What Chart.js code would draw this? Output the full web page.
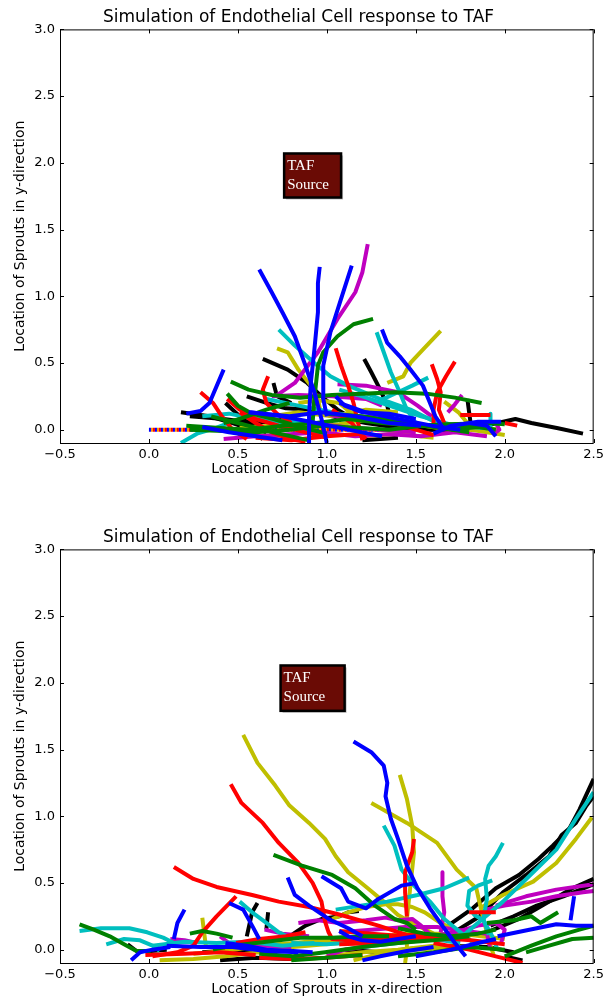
<!DOCTYPE html>
<html>
<head>
<meta charset="utf-8">
<script src="https://cdn.jsdelivr.net/npm/chart.js@4.4.1/dist/chart.umd.min.js"></script>
<style>
  body { margin: 0; background: #fff; }
  .wrap { position: relative; width: 608px; height: 1003px; }
  canvas { position: absolute; left: 0; }
  #top { top: 0; }
  #bottom { top: 520px; }
</style>
</head>
<body>
<div class="wrap">
  <canvas id="top" width="608" height="483"></canvas>
  <canvas id="bottom" width="608" height="483"></canvas>
</div>
<script>
// tick labels
const xTicks = [-0.5, 0.0, 0.5, 1.0, 1.5, 2.0, 2.5];
const yTicks = [0.0, 0.5, 1.0, 1.5, 2.0, 2.5, 3.0];

// sprout paths, flat x,y pairs, grouped by colour
// first simulation
const topBlue = [
  [0.62,1.20, 0.69,1.03, 0.75,0.88, 0.82,0.70, 0.88,0.48, 0.93,0.28, 0.97,0.08, 1.00,-0.10],
  [0.96,1.22, 0.95,1.10, 0.95,0.88, 0.93,0.60, 0.91,0.35, 0.90,0.10, 0.90,-0.10],
  [1.14,1.23, 1.08,0.98, 1.02,0.73, 0.98,0.48, 0.98,0.23, 1.00,0.10],
  [1.31,0.75, 1.34,0.65, 1.41,0.55, 1.47,0.45, 1.54,0.33, 1.58,0.20, 1.61,0.10, 1.65,0.02],
  [0.42,0.45, 0.34,0.20, 0.29,0.14, 0.21,0.12],
  [0.57,0.13, 0.75,0.10, 0.94,0.05, 1.12,0.00, 1.31,-0.05],
  [1.07,0.20, 1.22,0.13, 1.40,0.08, 1.59,0.03, 1.75,0.00],
  [1.80,0.05, 1.90,0.03, 1.95,-0.05],
  [0.56,0.13, 0.79,0.10, 0.97,0.13, 1.16,0.10, 1.35,0.05, 1.53,0.03],
  [0.30,0.02, 0.45,-0.02, 0.60,-0.05, 0.75,-0.08],
  [1.05,0.25, 1.10,0.18, 1.20,0.13, 1.35,0.12, 1.50,0.08],
  [1.60,-0.03, 1.70,0.03, 1.85,0.06, 1.98,0.06]
];
const topGreen = [
  [1.26,0.83, 1.15,0.79, 1.06,0.70, 0.98,0.58, 0.95,0.48, 0.93,0.23, 0.92,0.05],
  [0.46,0.36, 0.56,0.30, 0.69,0.26, 0.85,0.24, 1.03,0.26, 1.20,0.27, 1.38,0.28, 1.56,0.27, 1.72,0.24, 1.87,0.20],
  [0.21,0.03, 0.38,0.015, 0.56,0.00, 0.75,0.03, 0.94,0.05, 1.12,0.08, 1.31,0.05, 1.49,0.03, 1.70,0.04, 1.90,0.05, 2.00,0.04],
  [0.44,0.27, 0.50,0.18, 0.58,0.12, 0.70,0.08, 0.85,0.02, 1.00,-0.03],
  [1.00,0.12, 1.20,0.10, 1.40,0.06, 1.60,0.02, 1.80,-0.02],
  [0.35,0.10, 0.50,0.05, 0.70,-0.02, 0.90,-0.08],
  [0.23,0.00, 0.42,-0.01, 0.60,-0.02, 0.79,0.00, 0.97,0.03, 1.16,0.015, 1.35,0.00, 1.53,0.03, 1.72,0.04, 1.90,0.015],
  [0.42,0.05, 0.51,0.08, 0.66,0.15, 0.79,0.20],
  [1.70,0.00, 1.85,0.02, 1.95,0.00]
];
const topRed = [
  [1.05,0.61, 1.08,0.48, 1.12,0.33, 1.15,0.20, 1.17,0.08, 1.20,-0.08],
  [1.72,0.51, 1.67,0.40, 1.62,0.28, 1.60,0.15, 1.60,0.05],
  [1.59,0.49, 1.62,0.38, 1.64,0.28, 1.63,0.15, 1.66,0.05],
  [0.29,0.28, 0.36,0.20, 0.41,0.10, 0.47,0.00, 0.55,-0.07],
  [0.44,0.23, 0.51,0.15, 0.60,0.08, 0.73,0.03, 0.88,-0.02, 1.00,-0.06],
  [0.67,0.40, 0.64,0.30, 0.66,0.20, 0.72,0.12, 0.80,0.05],
  [1.03,0.15, 1.14,0.05, 1.22,-0.07],
  [1.75,0.11, 1.92,0.11],
  [2.00,0.05, 2.07,0.03],
  [0.60,-0.06, 0.80,-0.08, 1.00,-0.05, 1.20,-0.03],
  [0.51,0.13, 0.60,0.05, 0.69,-0.02, 0.79,-0.07, 0.88,-0.09],
  [1.30,0.10, 1.40,0.04, 1.50,0.00, 1.60,-0.04]
];
const topCyan = [
  [0.73,0.75, 0.82,0.63, 0.93,0.50, 1.02,0.40, 1.12,0.33, 1.30,0.23, 1.47,0.15, 1.62,0.05, 1.78,0.00],
  [1.28,0.73, 1.32,0.58, 1.36,0.43, 1.41,0.28, 1.45,0.15, 1.50,0.05],
  [1.57,0.39, 1.48,0.33, 1.40,0.28, 1.30,0.22],
  [0.66,0.23, 0.84,0.18, 1.03,0.13, 1.22,0.08, 1.40,0.05, 1.59,0.03, 1.77,0.00],
  [0.18,-0.10, 0.27,-0.03, 0.37,0.01, 0.45,0.05],
  [1.92,0.12, 1.92,0.02],
  [0.50,0.17, 0.60,0.10, 0.75,0.05, 0.90,0.00],
  [1.07,0.30, 1.20,0.25, 1.35,0.18, 1.53,0.10, 1.72,0.03, 1.90,0.01],
  [0.30,0.10, 0.45,0.12, 0.60,0.08, 0.80,0.06, 1.00,0.04]
];
const topMagenta = [
  [1.23,1.39, 1.20,1.18, 1.16,1.03, 1.06,0.83, 0.95,0.58, 0.82,0.35, 0.71,0.25],
  [1.06,0.34, 1.22,0.33, 1.40,0.28, 1.51,0.18, 1.59,0.10],
  [0.69,0.25, 0.84,0.26, 1.03,0.25, 1.22,0.23, 1.31,0.18],
  [1.76,0.26, 1.72,0.19, 1.68,0.13],
  [1.95,0.05, 1.97,0.00, 1.93,-0.04],
  [0.90,0.05, 1.10,0.02, 1.30,0.00, 1.50,-0.02],
  [0.42,-0.07, 0.60,-0.05, 0.79,-0.035, 0.97,-0.02, 1.16,-0.05, 1.35,-0.035, 1.53,-0.05, 1.72,-0.02, 1.90,-0.05],
  [1.00,0.12, 1.10,0.08, 1.25,0.10, 1.35,0.05]
];
const topYellow = [
  [1.64,0.74, 1.54,0.60, 1.47,0.50, 1.43,0.40, 1.34,0.35],
  [0.72,0.61, 0.78,0.58, 0.84,0.45, 0.91,0.33, 0.95,0.23, 0.97,0.10],
  [0.69,0.10, 0.84,0.13, 1.03,0.10, 1.22,0.15, 1.40,0.13],
  [1.66,0.21, 1.74,0.13, 1.79,0.05, 1.87,0.02, 1.96,0.00],
  [1.20,-0.05, 1.40,-0.03, 1.60,-0.06],
  [0.51,0.015, 0.69,0.03, 0.88,0.015, 1.07,0.04, 1.25,0.08, 1.44,0.05, 1.62,0.015, 1.81,0.00, 2.00,-0.04],
  [0.84,0.20, 0.95,0.22, 1.07,0.20, 1.14,0.12]
];
const topBlack = [
  [0.64,0.53, 0.78,0.45, 0.89,0.35, 0.97,0.25, 1.06,0.15, 1.15,0.08],
  [1.21,0.53, 1.25,0.43, 1.30,0.30, 1.34,0.18, 1.36,0.05],
  [0.18,0.13, 0.34,0.10, 0.47,0.05, 0.60,-0.01],
  [0.55,0.25, 0.66,0.20, 0.77,0.16, 0.92,0.15, 1.03,0.10, 1.22,0.05, 1.40,0.015, 1.59,0.00, 1.77,0.00, 1.96,0.05, 2.06,0.08, 2.15,0.05, 2.30,0.01, 2.44,-0.03],
  [0.43,0.20, 0.51,0.10, 0.58,0.03, 0.66,-0.02],
  [1.79,0.23, 1.80,0.13, 1.81,0.03],
  [0.70,0.35, 0.72,0.25, 0.80,0.20],
  [0.49,0.08, 0.56,0.00, 0.64,-0.07],
  [0.23,0.10, 0.42,0.08, 0.60,0.05, 0.79,0.08],
  [1.20,-0.08, 1.40,-0.06]
];
// start positions of the sprouts (dotted row on y = 0)
const topStart = [0.0,0.0, 1.95,0.0];

// second simulation
const botYellow = [
  [0.53,1.61, 0.61,1.40, 0.71,1.23, 0.79,1.08, 0.90,0.95, 0.99,0.83, 1.05,0.70, 1.12,0.58, 1.23,0.46, 1.32,0.36, 1.40,0.26, 1.51,0.18, 1.60,0.12],
  [1.41,1.31, 1.45,1.13, 1.48,0.93, 1.49,0.73, 1.47,0.48, 1.45,0.23, 1.45,0.00, 1.44,-0.10],
  [1.25,1.10, 1.45,0.95, 1.62,0.80, 1.73,0.60, 1.84,0.46, 1.88,0.23, 1.92,0.03, 1.94,-0.05],
  [1.86,0.31, 1.99,0.41, 2.16,0.51, 2.29,0.65, 2.40,0.83, 2.49,0.99],
  [1.03,0.23, 1.12,0.28, 1.22,0.32, 1.33,0.34, 1.40,0.34, 1.48,0.32, 1.55,0.28, 1.64,0.20, 1.72,0.15, 1.81,0.10],
  [0.06,-0.08, 0.25,-0.07, 0.43,-0.05, 0.62,-0.02, 0.81,0.02, 0.99,0.04, 1.07,0.05, 1.30,0.07, 1.50,0.10, 1.70,0.12],
  [0.25,-0.03, 0.43,-0.01, 0.62,0.03, 0.81,0.05, 0.99,0.07, 1.20,0.06],
  [0.30,0.24, 0.31,0.13, 0.32,0.03],
  [1.00,-0.05, 1.20,-0.02, 1.40,0.00, 1.60,0.03, 1.80,0.02],
  [1.07,0.04, 1.25,0.09, 1.44,0.12, 1.62,0.12, 1.81,0.11, 2.00,0.08],
  [1.15,-0.08, 1.30,-0.03, 1.50,0.00, 1.70,0.02]
];
const botRed = [
  [0.46,1.24, 0.52,1.10, 0.64,0.95, 0.73,0.80, 0.84,0.65, 0.92,0.50, 0.97,0.36, 0.99,0.21, 1.01,0.13, 1.03,0.08, 1.12,0.07, 1.31,0.08, 1.49,0.09, 1.62,0.10, 1.77,0.09],
  [0.14,0.62, 0.25,0.53, 0.38,0.47, 0.58,0.41, 0.73,0.36, 0.90,0.32, 1.08,0.26, 1.29,0.18, 1.45,0.11, 1.64,0.11],
  [0.02,-0.05, 0.16,-0.02, 0.25,0.03, 0.30,0.13, 0.38,0.25, 0.49,0.40],
  [1.49,0.83, 1.48,0.73, 1.44,0.58, 1.44,0.43, 1.45,0.25],
  [0.49,0.05, 0.62,0.08, 0.77,0.10, 0.88,0.13],
  [0.62,-0.06, 0.81,-0.07, 0.99,-0.06, 1.20,-0.04],
  [1.60,0.05, 1.80,0.00, 1.95,-0.05, 2.10,-0.10],
  [1.80,0.28, 1.95,0.28],
  [1.07,0.14, 1.25,0.12, 1.44,0.10, 1.62,0.09, 1.81,0.07, 2.00,0.04],
  [1.07,0.04, 1.30,0.05, 1.50,0.07, 1.70,0.08],
  [-0.02,-0.04, 0.20,-0.03, 0.40,-0.02, 0.60,-0.04]
];
const botBlue = [
  [1.15,1.56, 1.25,1.48, 1.32,1.38, 1.34,1.25, 1.33,1.15, 1.36,0.98, 1.40,0.83, 1.45,0.63, 1.51,0.46, 1.58,0.31, 1.66,0.16, 1.72,0.05, 1.78,-0.05],
  [0.78,0.54, 0.82,0.41, 0.90,0.33, 1.01,0.23, 1.12,0.16, 1.20,0.10],
  [0.97,0.55, 1.08,0.46, 1.12,0.36, 1.22,0.31, 1.29,0.38, 1.42,0.48, 1.50,0.50],
  [-0.10,-0.08, -0.05,-0.02, 0.02,0.00, 0.12,0.02],
  [0.14,0.08, 0.16,0.20, 0.20,0.30],
  [0.45,0.35, 0.53,0.30, 0.58,0.18, 0.62,0.08],
  [0.43,0.05, 0.55,0.03, 0.66,0.00, 0.81,-0.01, 0.92,-0.02],
  [1.96,0.10, 2.07,0.13, 2.18,0.16, 2.29,0.19, 2.40,0.18, 2.50,0.18],
  [2.37,0.22, 2.39,0.40],
  [1.50,-0.05, 1.70,0.00, 1.85,0.05, 1.95,0.08],
  [0.10,0.03, 0.29,0.02, 0.47,0.02, 0.66,-0.01, 0.84,-0.02],
  [1.07,0.14, 1.12,0.10, 1.20,0.07, 1.30,0.06, 1.40,0.08, 1.50,0.10],
  [1.20,-0.08, 1.30,-0.05, 1.45,-0.01, 1.60,0.02]
];
const botCyan = [
  [1.32,0.93, 1.38,0.78, 1.42,0.60, 1.49,0.48, 1.58,0.36, 1.66,0.23, 1.77,0.11, 1.85,0.02],
  [1.80,0.54, 1.66,0.46, 1.51,0.41, 1.34,0.36, 1.19,0.33, 1.05,0.30],
  [-0.39,0.14, -0.27,0.16, -0.11,0.16, -0.01,0.13, 0.08,0.09, 0.14,0.05],
  [-0.24,0.04, -0.14,0.08, -0.05,0.07, 0.02,0.03, 0.06,-0.01],
  [0.51,0.36, 0.58,0.28, 0.66,0.20, 0.73,0.13, 0.81,0.08],
  [1.77,0.11, 1.99,0.36, 2.16,0.58, 2.29,0.75, 2.40,0.98, 2.50,1.18],
  [1.99,0.80, 1.95,0.70, 1.91,0.63, 1.89,0.53, 1.90,0.38, 1.88,0.23, 1.91,0.11],
  [1.93,0.52, 1.85,0.48, 1.80,0.44, 1.79,0.33, 1.83,0.26, 1.88,0.22, 1.93,0.10, 1.96,0.00],
  [0.80,0.05, 1.00,0.04, 1.20,0.06],
  [0.02,0.03, 0.20,0.06, 0.38,0.05, 0.56,0.06, 0.75,0.03, 0.93,0.05],
  [1.20,0.02, 1.40,0.05, 1.60,0.08, 1.75,0.05]
];
const botBlack = [
  [1.66,0.16, 1.82,0.31, 1.95,0.46, 2.08,0.56, 2.19,0.68, 2.27,0.78, 2.36,0.90, 2.42,1.05, 2.50,1.28],
  [1.68,0.10, 1.86,0.25, 1.99,0.43, 2.12,0.56, 2.25,0.70, 2.32,0.86, 2.40,0.95, 2.46,1.08, 2.50,1.15],
  [1.92,0.18, 2.05,0.25, 2.18,0.33, 2.33,0.40, 2.50,0.49],
  [1.90,0.13, 2.08,0.23, 2.25,0.36, 2.38,0.46, 2.50,0.53],
  [-0.12,0.04, -0.07,-0.01, 0.01,-0.01, 0.10,0.00],
  [0.55,0.10, 0.58,0.28, 0.61,0.35],
  [0.66,0.15, 0.67,0.28],
  [0.79,0.10, 0.88,0.18, 0.97,0.23, 1.07,0.25, 1.12,0.28, 1.18,0.29],
  [2.00,-0.05, 2.10,-0.08],
  [0.30,-0.02, 0.50,0.00, 0.70,-0.03],
  [1.10,0.00, 1.30,-0.02, 1.50,0.01, 1.70,0.03, 1.90,0.02, 2.05,-0.02],
  [0.40,-0.08, 0.60,-0.06, 0.80,-0.07]
];
const botMagenta = [
  [0.84,0.20, 0.95,0.22, 1.07,0.20, 1.22,0.22, 1.33,0.24, 1.40,0.22, 1.48,0.23, 1.53,0.18, 1.59,0.10],
  [1.65,0.58, 1.65,0.40, 1.66,0.28, 1.64,0.13],
  [1.89,0.30, 2.00,0.33, 2.15,0.36, 2.29,0.40, 2.44,0.43, 2.50,0.44],
  [1.95,0.33, 2.12,0.40, 2.29,0.45, 2.50,0.49],
  [1.60,0.10, 1.75,0.14, 1.85,0.18, 1.95,0.20, 2.00,0.15, 1.98,0.05],
  [0.12,0.08, 0.20,0.07, 0.27,0.05],
  [1.00,-0.05, 1.10,0.00, 1.25,0.03],
  [1.07,0.13, 1.25,0.15, 1.44,0.17, 1.62,0.17, 1.78,0.14, 1.90,0.12, 1.92,0.00],
  [0.40,0.10, 0.45,0.05, 0.60,0.03, 0.80,0.02],
  [0.65,0.15, 0.75,0.12, 0.90,0.10]
];
const botGreen = [
  [0.70,0.71, 0.86,0.63, 1.03,0.56, 1.16,0.46, 1.27,0.33, 1.38,0.23, 1.45,0.20, 1.50,0.15],
  [-0.39,0.19, -0.31,0.15, -0.22,0.10, -0.14,0.04, -0.07,-0.01, 0.01,-0.01],
  [0.23,0.12, 0.30,0.14, 0.38,0.12, 0.47,0.09],
  [2.00,-0.05, 2.15,0.03, 2.29,0.10, 2.42,0.15, 2.50,0.18],
  [2.12,-0.02, 2.25,0.03, 2.38,0.08, 2.50,0.09],
  [1.90,0.20, 2.05,0.22, 2.15,0.25, 2.20,0.20, 2.30,0.28],
  [0.62,-0.03, 0.81,-0.05, 0.99,-0.02, 1.20,0.02, 1.40,0.05, 1.60,0.07, 1.80,0.10],
  [1.40,-0.05, 1.60,-0.02, 1.80,0.02, 2.00,0.00],
  [0.36,0.00, 0.47,0.03, 0.66,0.06, 0.85,0.09, 1.03,0.09, 1.20,0.10, 1.35,0.10],
  [1.40,0.16, 1.55,0.12, 1.70,0.10, 1.85,0.12, 1.95,0.15],
  [0.80,-0.08, 1.00,-0.06, 1.20,-0.04]
];

const colors = {
  b: '#0000ff', g: '#008000', r: '#ff0000', c: '#00bfbf',
  m: '#bf00bf', y: '#bfbf00', k: '#000000'
};

function toPoints(flat) {
  const pts = [];
  for (let i = 0; i < flat.length; i += 2) pts.push({ x: flat[i], y: flat[i + 1] });
  return pts;
}

function buildDatasets(groups, start) {
  const sets = [];
  groups.forEach(([key, paths]) => {
    paths.forEach((p) => {
      sets.push({
        data: toPoints(p),
        borderColor: colors[key],
        borderWidth: 4,
        showLine: true,
        pointRadius: 0,
        borderJoinStyle: 'round',
        clip: 0,
        order: 0,
      });
    });
  });
  if (start) {
    // dotted row of start markers, drawn behind everything
    ['#0000ff', '#ff0000', '#ff9900'].forEach((c, i) => {
      sets.push({
        data: toPoints(start),
        borderColor: c,
        borderWidth: 4,
        borderDash: [2, 4],
        borderDashOffset: i * 2,
        showLine: true,
        pointRadius: 0,
        clip: 0,
        order: 5,
      });
    });
  }
  return sets;
}

const fmt = (v) => (v < 0 ? '\u2212' + Math.abs(v).toFixed(1) : v.toFixed(1));

const frame = {
  id: 'frame',
  afterDatasetsDraw(chart, args, opts) {
    const { ctx, chartArea: a, scales } = chart;
    ctx.save();
    // TAF source box
    const xs = scales.x, ys = scales.y;
    const bx0 = xs.getPixelForValue(opts.box[0]), bx1 = xs.getPixelForValue(opts.box[1]);
    const by0 = ys.getPixelForValue(opts.box[3]), by1 = ys.getPixelForValue(opts.box[2]);
    ctx.fillStyle = 'rgba(0,0,0,0.25)';
    ctx.fillRect(bx0 + 2, by0 + 2, bx1 - bx0, by1 - by0);
    ctx.fillStyle = '#6a0b05';
    ctx.fillRect(bx0, by0, bx1 - bx0, by1 - by0);
    ctx.strokeStyle = '#000';
    ctx.lineWidth = 2.5;
    ctx.strokeRect(bx0, by0, bx1 - bx0, by1 - by0);
    ctx.fillStyle = '#fff';
    ctx.font = '15px "Liberation Serif", "DejaVu Serif", serif';
    ctx.textBaseline = 'alphabetic';
    ctx.textAlign = 'left';
    ctx.fillText('TAF', bx0 + 3, by0 + 17);
    ctx.fillText('Source', bx0 + 3, by0 + 36);

    // axes box and inward ticks
    ctx.strokeStyle = '#000';
    ctx.lineWidth = 1;
    ctx.strokeRect(a.left + 0.5, a.top + 0.5, a.right - a.left - 1, a.bottom - a.top);
    ctx.beginPath();
    xTicks.forEach((v) => {
      const px = Math.round(xs.getPixelForValue(v)) + 0.5;
      ctx.moveTo(px, a.bottom); ctx.lineTo(px, a.bottom - 4);
      ctx.moveTo(px, a.top); ctx.lineTo(px, a.top + 4);
    });
    yTicks.forEach((v) => {
      const py = Math.round(ys.getPixelForValue(v)) + 0.5;
      ctx.moveTo(a.left, py); ctx.lineTo(a.left + 4, py);
      ctx.moveTo(a.right, py); ctx.lineTo(a.right - 4, py);
    });
    ctx.stroke();
    ctx.restore();
  }
};

Chart.defaults.font.family = '"DejaVu Sans", sans-serif';
Chart.defaults.color = '#000';

function makeChart(id, groups, start, box) {
  return new Chart(document.getElementById(id).getContext('2d'), {
    type: 'scatter',
    data: { datasets: buildDatasets(groups, start) },
    options: {
      responsive: false,
      animation: false,
      devicePixelRatio: 1,
      layout: { padding: { right: 11, left: 0, top: 0, bottom: 0 } },
      plugins: {
        legend: { display: false },
        tooltip: { enabled: false },
        title: {
          display: true,
          text: 'Simulation of Endothelial Cell response to TAF',
          font: { size: 17, weight: 'normal' },
          color: '#000',
          padding: { top: 7, bottom: 2 },
        },
        frame: { box: box },
      },
      scales: {
        x: {
          type: 'linear',
          min: -0.5,
          max: 2.5,
          grid: { display: false, drawTicks: false },
          border: { display: false },
          afterBuildTicks: (s) => { s.ticks = xTicks.map((v) => ({ value: v })); },
          afterFit: (s) => { s.height = 40; },
          ticks: { font: { size: 13 }, padding: 4, maxRotation: 0, callback: fmt },
          title: { display: true, text: 'Location of Sprouts in x-direction', font: { size: 14 }, padding: { top: 0, bottom: 5 } },
        },
        y: {
          type: 'linear',
          min: -0.1,
          max: 3.0,
          grid: { display: false, drawTicks: false },
          border: { display: false },
          afterBuildTicks: (s) => { s.ticks = yTicks.map((v) => ({ value: v })); },
          afterFit: (s) => { s.width = 60; },
          ticks: { font: { size: 13 }, padding: 5, callback: fmt },
          title: { display: true, text: 'Location of Sprouts in y-direction', font: { size: 14 }, padding: { top: 12, bottom: 0 } },
        },
      },
    },
    plugins: [frame],
  });
}

makeChart('top', [
  ['b', topBlue], ['g', topGreen], ['r', topRed], ['c', topCyan],
  ['m', topMagenta], ['y', topYellow], ['k', topBlack]
], topStart, [0.76, 1.08, 1.74, 2.07]);

makeChart('bottom', [
  ['b', botBlue], ['g', botGreen], ['r', botRed], ['c', botCyan],
  ['m', botMagenta], ['y', botYellow], ['k', botBlack]
], null, [0.74, 1.10, 1.79, 2.13]);
</script>
</body>
</html>
